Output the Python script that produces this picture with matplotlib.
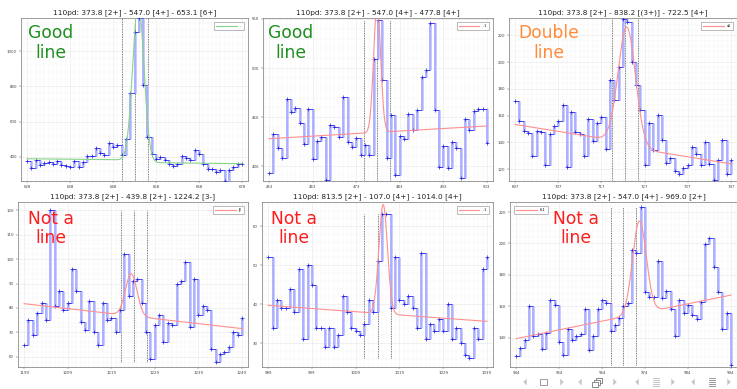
import numpy as np
import matplotlib
matplotlib.use("Agg")
import matplotlib.pyplot as plt
from matplotlib.patches import Polygon, Rectangle
from matplotlib.ticker import MultipleLocator
from math import erfc, sqrt

W, H = 737, 389

# ---- gate energies and titles ----
titles = [
    "110pd: 373.8 [2+] - 547.0 [4+] - 653.1 [6+]",
    "110pd: 373.8 [2+] - 547.0 [4+] - 477.8 [4+]",
    "110pd: 373.8 [2+] - 838.2 [(3+)] - 722.5 [4+]",
    "110pd: 373.8 [2+] - 439.8 [2+] - 1224.2 [3-]",
    "110pd: 813.5 [2+] - 107.0 [4+] - 1014.0 [4+]",
    "110pd: 373.8 [2+] - 547.0 [4+] - 969.0 [2+]",
]
energies = [653.1, 477.8, 722.5, 1224.2, 1014.0, 969.0]
verdicts = [("Good", "line"), ("Good", "line"), ("Double", "line"),
            ("Not a", "line"), ("Not a", "line"), ("Not a", "line")]
verdict_colors = ["#1f8f1f", "#1f8f1f", "#ff8c3a", "#ff1c1c", "#ff1c1c", "#ff1c1c"]

# ---- spectrum counts (1 keV bins, 51 per panel) ----
counts_653 = [375, 340, 385, 356, 368, 372, 362, 379, 353, 347, 343, 375, 343, 373, 408, 408,
              453, 425, 413, 481, 457, 470, 409, 500, 765, 1106, 1187, 805, 513, 419, 390, 400,
              385, 362, 349, 362, 406, 393, 385, 438, 419, 362, 334, 334, 315, 325, 264, 325,
              343, 359, 362]
counts_478 = [392.9, 432.7, 419, 408.8, 468.4, 455.1, 459.2, 443.9, 422.8, 458.2, 407.1, 425.9,
              429.9, 386, 441.8, 440.1, 430.3, 470.7, 424.8, 420.1, 429.3, 411.2, 421.4, 411.2,
              509.2, 548.6, 487.4, 408.8, 452.7, 391.2, 431.3, 428.2, 453.7, 436.7, 457.5, 490.8,
              497.6, 545.9, 457.5, 399, 420.8, 398, 425.2, 419, 388.4, 448.3, 437, 455.8, 458.8,
              458.8, 424]
counts_722 = [171.2, 156.1, 148.2, 147, 129.9, 148.2, 147.5, 123, 146.2, 152.1, 156.1, 168.1,
              121.3, 162.8, 147.5, 145.9, 129.9, 157.2, 141.1, 154.1, 158.9, 135.3, 186.9, 171.4,
              196.4, 232.2, 230, 200.2, 183.1, 164.3, 122.8, 154.1, 134, 160.2, 141.4, 124.8,
              128.1, 118.2, 116.4, 120.8, 123.3, 136.8, 131.5, 123.3, 139.9, 124.1, 111.9, 126.6,
              142.1, 116.2, 127.1]
counts_1224 = [64.9, 74.9, 69, 78, 82, 74.9, 120, 80.9, 86.9, 79, 82, 96.1, 86.9, 74.1, 70.9,
               82.9, 70, 64.9, 82, 74.9, 76, 70, 79, 101.9, 85, 91, 92, 82, 70, 58.9, 73, 77, 66,
               73.9, 73, 89.9, 91, 98.9, 72, 92, 77, 80.9, 79, 63, 58, 61, 61.9, 64, 70, 69, 76]
counts_1014 = [52, 34, 41, 39.1, 39.1, 44, 38.1, 49.1, 31, 50, 45, 34, 34, 29.1, 34, 29.1, 32.1,
               42.1, 38.1, 34, 33.1, 32.1, 35, 41, 38.1, 51, 63, 63, 39.1, 52, 41, 40.1, 42.1,
               39.1, 34, 53, 31, 35, 33.1, 36.1, 33.1, 40.1, 31, 34, 30.1, 27.1, 26.1, 34, 31,
               49.1, 52]
counts_969 = [128.7, 133.2, 138.9, 160.3, 141.1, 142.1, 133.0, 143.2, 163.9, 161.1, 137.2, 128.9,
              145.3, 138.9, 140.9, 142.3, 158.1, 132.1, 141.1, 158.1, 163.9, 162.0, 144.3, 148.1,
              152.8, 160.3, 162.0, 196.1, 194.0, 223.2, 169.0, 166.2, 166.2, 188.8, 165.0, 169.9,
              158.1, 141.1, 163.9, 156.0, 160.9, 154.3, 151.9, 162.8, 199.7, 203.4, 185.2, 169.2,
              145.3, 156.0, 122.9]
spectra = [counts_653, counts_478, counts_722, counts_1224, counts_1014, counts_969]

# ---- fitted peak parameters: gaussian on linear background with optional step ----
fit_center = [653.9, 477.8, 722.9, 1223.6, 1015.3, 972.7]
fit_sigma = [1.3, 0.8, 2.0, 1.33, 0.98, 1.6]
fit_amp = [900, 130, 88, 17.3, 28, 59]
bg_level = [369, 434.5, 136.7, 76.6, 37.65, 153.3]
bg_slope = [-0.28, 0.26, -0.52, -0.204, -0.082, 0.555]
bg_step = [14, 0, 3.4, 0, 0, 0]
fit_colors = ["#86d486", "#ff8f8f", "#ff8f8f", "#ff8f8f", "#ff8f8f", "#ff8f8f"]
legend_labels = ["..", "..1", "a6", "JE", "..1", "6-1"]
legend_loc = ["upper right"] * 5 + ["upper left"]

y_limits = [(264, 1187), (385, 551), (111.1, 232.9), (55.8, 123.4), (23.9, 66.2), (121.4, 226.4)]
y_major = [200, 50, 20, 10, 10, 20]

# axes boxes in pixels: left, top, right, bottom
boxes = [(21, 18, 248, 181), (263, 18, 493, 181), (509, 18, 737, 181),
         (18, 202, 248, 367), (262, 202, 493, 367), (510, 202, 737, 367)]
# centres of the two verdict lines (x, y of first line, y of second line)
verdict_pos = [(51, 33, 53), (291, 33, 53), (549, 33, 53),
               (51, 219, 238), (294, 219, 238), (576, 219, 238)]

fig = plt.figure(figsize=(W / 100, H / 100), dpi=100)
fig.patch.set_facecolor("white")


def fx(px):
    return px / W


def fy(py):
    return 1 - py / H


for k in range(6):
    l, t, r, b = boxes[k]
    ax = fig.add_axes([fx(l), fy(b), (r - l) / W, (b - t) / H])
    E = energies[k]
    c0 = int(round(E))
    x = np.arange(c0 - 25, c0 + 26)
    y = np.array(spectra[k], dtype=float)

    ax.set_xlim(x[0] - 1.4, x[-1] + 1.4)
    ax.set_ylim(*y_limits[k])

    ax.xaxis.set_major_locator(MultipleLocator(10, offset=x[0] % 10))
    ax.xaxis.set_minor_locator(MultipleLocator(1))
    ax.yaxis.set_major_locator(MultipleLocator(y_major[k]))
    ax.yaxis.set_minor_locator(MultipleLocator(y_major[k] / 5))
    ax.grid(which="major", color="#e6e6e6", lw=0.4)
    ax.grid(which="minor", color="#f4f4f4", lw=0.3)
    ax.set_axisbelow(True)
    ax.tick_params(which="major", labelsize=2.8, length=1.5, width=0.3, pad=1.5,
                   colors="#444444")
    ax.tick_params(which="minor", length=0.8, width=0.25, colors="#777777")
    ax.tick_params(axis="y", which="minor", length=0)
    for s in ax.spines.values():
        s.set_linewidth(0.5)
        s.set_color("#777777")

    # gate window markers
    for xv in (E - 3, E, E + 3):
        ax.vlines(xv, y.min(), y.max(), colors="#555555", lw=0.6, linestyles=(0, (1, 1)),
                  zorder=2)

    # spectrum as a post-step histogram: pale risers, thin blue treads
    ax.vlines(x[1:], y[:-1], y[1:], colors="#c2c6ff", lw=2.0, zorder=3)
    ax.vlines(x[1:], y[:-1], y[1:], colors="#6a6aff", lw=0.35, zorder=3.5)
    ax.hlines(y[:-1], x[:-1], x[1:], colors="#3030f0", lw=0.6, zorder=4)
    ax.plot(x, y, "+", color="#2020e0", ms=2.2, mew=0.5, zorder=5)

    # fit curve
    xf = np.linspace(x[0], x[-1], 600)
    step = np.array([0.5 * erfc((v - fit_center[k]) / (sqrt(2) * fit_sigma[k])) for v in xf])
    yf = (bg_level[k] + bg_slope[k] * (xf - E) + bg_step[k] * step
          + fit_amp[k] * np.exp(-0.5 * ((xf - fit_center[k]) / fit_sigma[k]) ** 2))
    ax.plot(xf, yf, color=fit_colors[k], lw=0.8, zorder=6, label=legend_labels[k])

    leg = ax.legend(loc=legend_loc[k], fontsize=2.5, handlelength=6, frameon=True,
                    fancybox=False, borderpad=0.6, borderaxespad=1.2)
    leg.get_frame().set_edgecolor("#888888")
    leg.get_frame().set_linewidth(0.5)

    ax.set_title(titles[k], fontsize=5.3, pad=2.5, color="#222222")

    px, py1, py2 = verdict_pos[k]
    for word, py in zip(verdicts[k], (py1, py2)):
        fig.text(fx(px), fy(py), word, color=verdict_colors[k], fontsize=12.3,
                 ha="center", va="center")

# ---- navigation toolbar strip ----
tool_y = 382
gray = "#c6c6c6"


def tri(cx, left):
    w, h = 3.5, 7
    if left:
        pts = [(cx + w / 2, tool_y - h / 2), (cx + w / 2, tool_y + h / 2), (cx - w / 2, tool_y)]
    else:
        pts = [(cx - w / 2, tool_y - h / 2), (cx - w / 2, tool_y + h / 2), (cx + w / 2, tool_y)]
    fig.patches.append(Polygon([(fx(a), fy(b)) for a, b in pts], closed=True, fc=gray, ec="none",
                               transform=fig.transFigure))


def rect(cx, cy, w, h, ec="#888888"):
    fig.patches.append(Rectangle((fx(cx - w / 2), fy(cy + h / 2)), w / W, h / H, fc="white",
                                 ec=ec, lw=0.6, transform=fig.transFigure))


for cx in (525, 580, 637, 693):
    tri(cx, True)
for cx in (562, 615, 673, 729):
    tri(cx, False)
rect(543, tool_y, 7, 6)
rect(599, tool_y - 2, 6, 5, "#777777")
rect(597, tool_y, 6, 5, "#777777")
rect(595, tool_y + 2, 6, 5, "#777777")
for cx, col in ((656, "#bbbbbb"), (712, "#888888")):
    for dy in (-4, -2, 0, 2, 4):
        fig.lines.append(plt.Line2D([fx(cx - 3), fx(cx + 3)], [fy(tool_y + dy)] * 2, color=col,
                                    lw=0.6, transform=fig.transFigure))

fig.savefig("out.png", dpi=100, facecolor="white")
